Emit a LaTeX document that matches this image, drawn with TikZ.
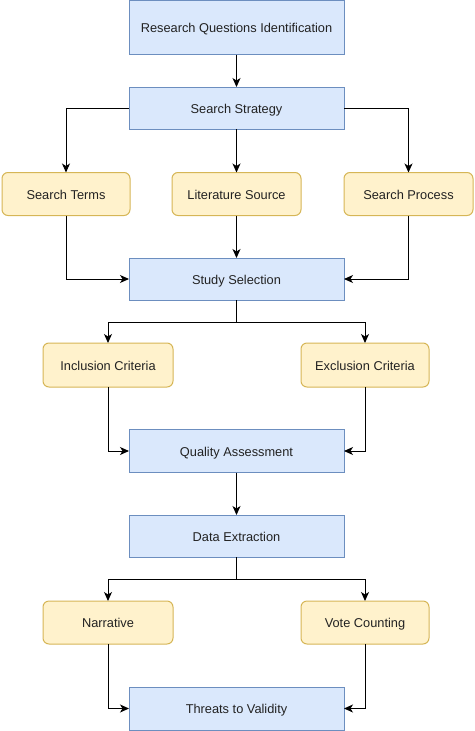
\documentclass[tikz,border=0pt]{standalone}
\usepackage{fontspec}
\setmainfont{Liberation Sans}
\usetikzlibrary{arrows.meta}
\definecolor{bluefill}{HTML}{DAE8FC}
\definecolor{blueline}{HTML}{6C8EBF}
\definecolor{yelfill}{HTML}{FFF2CC}
\definecolor{yelline}{HTML}{D6B656}
\definecolor{txt}{HTML}{222222}
\begin{document}
\begin{tikzpicture}[x=1pt,y=-1pt,
  every node/.style={font=\fontsize{12.8}{14}\selectfont, text=txt, inner sep=0pt, outer sep=0pt, text height=10.8pt, text depth=0pt},
  bluebox/.style={draw=blueline, fill=bluefill, line width=1pt, minimum width=215pt, minimum height=42pt},
  yelbox/.style={draw=yelline, fill=yelfill, line width=1pt, rounded corners=6pt, minimum width=129pt, minimum height=43pt},
  conn/.style={draw=black, line width=1pt, -{Stealth[length=9pt,width=8pt,inset=2.5pt]}},
  plain/.style={draw=black, line width=1pt}]
\useasboundingbox (0,0) rectangle (474,731);
\node[bluebox, minimum height=54pt] (rqi) at (236.5,27.5) {Research Questions Identification};
\node[bluebox] (ss) at (236.5,108) {Search Strategy};
\node[yelbox, minimum width=128pt] (st) at (66,194) {Search Terms};
\node[yelbox] (ls) at (236.5,194) {Literature Source};
\node[yelbox] (sp) at (408.5,194) {Search Process};
\node[bluebox] (sel) at (236.5,279) {Study Selection};
\node[yelbox, minimum width=130pt, minimum height=44pt] (inc) at (108,365) {Inclusion Criteria};
\node[yelbox, minimum width=128pt, minimum height=44pt] (exc) at (365,365) {Exclusion Criteria};
\node[bluebox, minimum height=43pt] (qa) at (236.5,451) {Quality Assessment};
\node[bluebox] (de) at (236.5,536) {Data Extraction};
\node[yelbox, minimum width=130pt] (nar) at (108,622.5) {Narrative};
\node[yelbox, minimum width=128pt] (vc) at (365,622.5) {Vote Counting};
\node[bluebox, minimum height=43pt] (thr) at (236.5,708.5) {Threats to Validity};
\coordinate (b1) at (236.5,322);
\coordinate (b2) at (236.5,579);

\draw[conn] (rqi.south) -- (ss.north);
\draw[conn] (ss.west) -| (st.north);
\draw[conn] (ss.east) -| (sp.north);
\draw[conn] (ss.south) -- (ls.north);
\draw[conn] (st.south) |- (sel.west);
\draw[conn] (ls.south) -- (sel.north);
\draw[conn] (sp.south) |- (sel.east);
\draw[plain] (sel.south) -- (b1);
\draw[conn] (b1) -| (inc.north);
\draw[conn] (b1) -| (exc.north);
\draw[conn] (inc.south) |- (qa.west);
\draw[conn] (exc.south) |- (qa.east);
\draw[conn] (qa.south) -- (de.north);
\draw[plain] (de.south) -- (b2);
\draw[conn] (b2) -| (nar.north);
\draw[conn] (b2) -| (vc.north);
\draw[conn] (nar.south) |- (thr.west);
\draw[conn] (vc.south) |- (thr.east);
\end{tikzpicture}
\end{document}
